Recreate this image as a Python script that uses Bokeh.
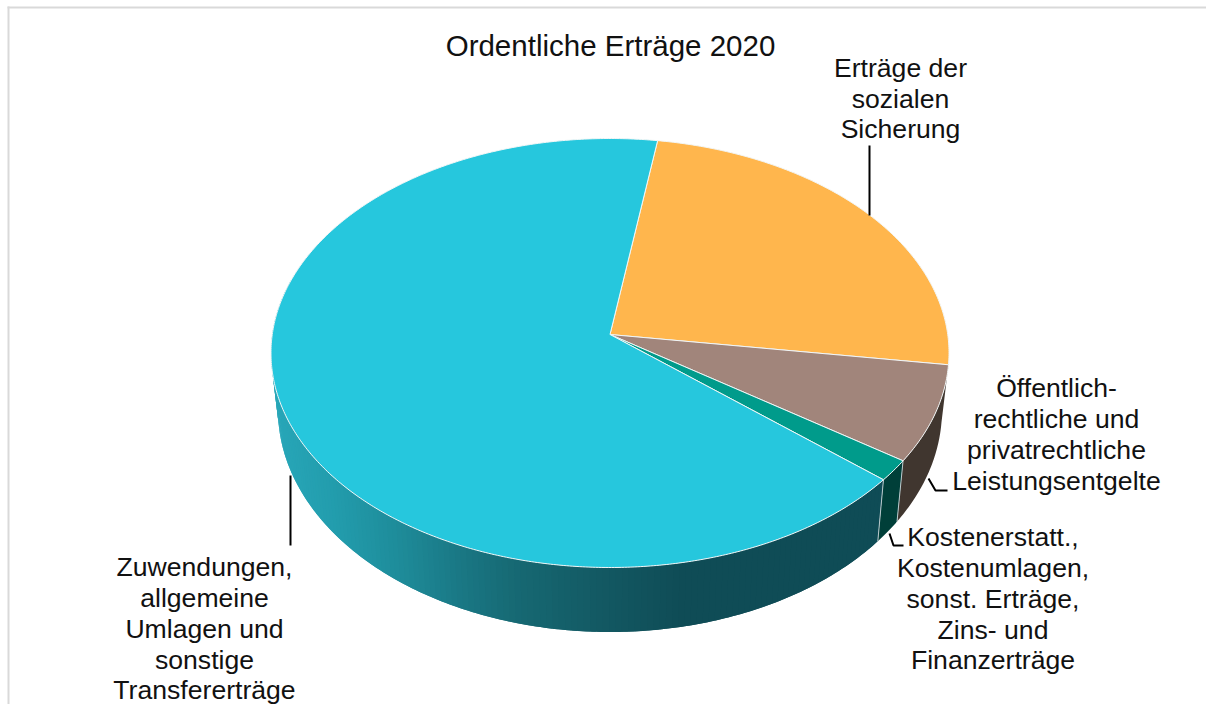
import numpy as np
from bokeh.plotting import figure
from bokeh.models import Range1d
from bokeh.core.properties import value
from bokeh.embed import file_html
from bokeh.resources import INLINE

# ---- data, clockwise from the first slice angle
slice_names = ["Erträge der sozialen Sicherung", "Öffentlich-rechtliche und privatrechtliche Leistungsentgelte",
               "Kostenerstatt., Kostenumlagen, sonst. Erträge, Zins- und Finanzerträge",
               "Zuwendungen, allgemeine Umlagen und sonstige Transfererträge"]
slice_values = [24.8, 7.3, 1.6, 66.3]
first_slice_angle = 8.8
top_colors = ["#ffb64d", "#a1857b", "#009b8b", "#26c7dd"]
wall_colors = [None, "#40362f", "#003f39", None]

title_text = "Ordentliche Erträge 2020"
label_lines = [
    (900, [67, 98, 128], ["Erträge der", "sozialen", "Sicherung"]),
    (1056, [387, 418, 449, 480], ["Öffentlich-", "rechtliche und", "privatrechtliche", "Leistungsentgelte"]),
    (992.5, [536, 567, 598, 629, 659], ["Kostenerstatt.,", "Kostenumlagen,", "sonst. Erträge,", "Zins- und", "Finanzerträge"]),
    (204, [566, 597, 628, 659, 689], ["Zuwendungen,", "allgemeine", "Umlagen und", "sonstige", "Transfererträge"]),
]
leaders = [
    ([869, 869], [145, 215]),
    ([290, 290], [475, 545]),
    ([928, 935, 947], [478, 490, 490]),
    ([889, 893, 903], [533, 545, 545]),
]

# ---- layout of the tilted pie, in page pixels
CX, CY, RX, RY = 609.5, 352.5, 339.0, 214.5      # top ellipse
APEX_Y = 334.0
BX, BY, BRX, BRY = 609.5, 409.5, 332.0, 222.0    # bottom ellipse
E = (CY - APEX_Y) / RY
K = np.sqrt(1 - E * E)

def ell_params(theta_deg):
    th = np.radians(theta_deg)
    d = 1 + E * np.cos(th)
    return K * np.sin(th) / d, (np.cos(th) + E) / d   # sin t, cos t

def top_pts(theta_deg):
    s, c = ell_params(theta_deg)
    return CX + RX * s, CY - RY * c

def bot_pts(theta_deg):
    s, c = ell_params(theta_deg)
    return BX + BRX * s, BY - BRY * c

grad_x = [270, 340, 400, 460, 520, 600, 680, 900]
grad_rgb = np.array([[0x29, 0xa8, 0xba], [0x22, 0x9c, 0xac], [0x1e, 0x8c, 0x9a], [0x1a, 0x78, 0x85],
                     [0x16, 0x68, 0x72], [0x13, 0x59, 0x63], [0x0f, 0x4c, 0x56], [0x0f, 0x4c, 0x56]], float)

def grad_color(x):
    return "#%02x%02x%02x" % tuple(int(round(np.interp(x, grad_x, grad_rgb[:, i]))) for i in range(3))

p = figure(width=1206, height=704, x_range=Range1d(0, 1206), y_range=Range1d(704, 0),
           output_backend="svg", toolbar_location=None, min_border=0, margin=(0, -8, -8, 0))
p.axis.visible = False
p.grid.visible = False
p.outline_line_color = None
p.background_fill_color = "white"

# chart frame
p.line([8, 8], [6, 704], line_color="#d9d9d9", line_width=2)
p.line([7, 1206], [7, 7], line_color="#d9d9d9", line_width=2)

# slice boundaries in degrees
edges = first_slice_angle + np.concatenate([[0], np.cumsum(slice_values)]) / sum(slice_values) * 360

# side walls
wx, wy, wc = [], [], []
for i in range(len(slice_values)):
    a0, a1 = edges[i], edges[i + 1]
    if a0 >= 275:
        continue
    a1 = min(a1, 285)
    if wall_colors[i] is None and a0 < 100:
        continue
    if wall_colors[i] is None:
        steps = np.arange(a0, a1, 1.0)
        for u in steps:
            th = np.linspace(u, min(u + 2.0, a1), 4)
            tx, ty = top_pts(th)
            bx, by = bot_pts(th)
            wx.append(list(tx) + list(bx[::-1]))
            wy.append(list(ty) + list(by[::-1]))
            wc.append(grad_color(bot_pts(u + 0.5)[0]))
    else:
        th = np.linspace(a0, a1, 40)
        tx, ty = top_pts(th)
        bx, by = bot_pts(th)
        wx.append(list(tx) + list(bx[::-1]))
        wy.append(list(ty) + list(by[::-1]))
        wc.append(wall_colors[i])
p.patches(wx, wy, fill_color=wc, line_color=None)

# light seams on the wall
seam_x, seam_y = [], []
for a in edges[2:4]:
    tx, ty = top_pts(a)
    bx, by = bot_pts(a)
    seam_x.append([tx, bx])
    seam_y.append([ty, by])
p.multi_line(seam_x, seam_y, line_color="#b9c9cc", line_width=1)

# top faces
fx, fy = [], []
for i in range(len(slice_values)):
    th = np.linspace(edges[i], edges[i + 1], max(8, int((edges[i + 1] - edges[i]) * 2)))
    rx, ry = top_pts(th)
    fx.append([CX] + list(rx))
    fy.append([APEX_Y] + list(ry))
p.patches(fx, fy, fill_color=top_colors, line_color="#f2f6f6", line_width=1)

# leader lines
p.multi_line([l[0] for l in leaders], [l[1] for l in leaders], line_color="black", line_width=2)

# texts
font = value("Liberation Sans")
p.text([610], [44.5], text=[title_text], text_font=font, text_font_size="29.5px", text_color="#111111",
       text_align="center", text_baseline="middle")
for x, ys, lines in label_lines:
    p.text([x] * len(lines), ys, text=lines, text_font=font, text_font_size="26.6px", text_color="#111111",
           text_align="center", text_baseline="middle")

open("out.html", "w").write(file_html(p, INLINE))
